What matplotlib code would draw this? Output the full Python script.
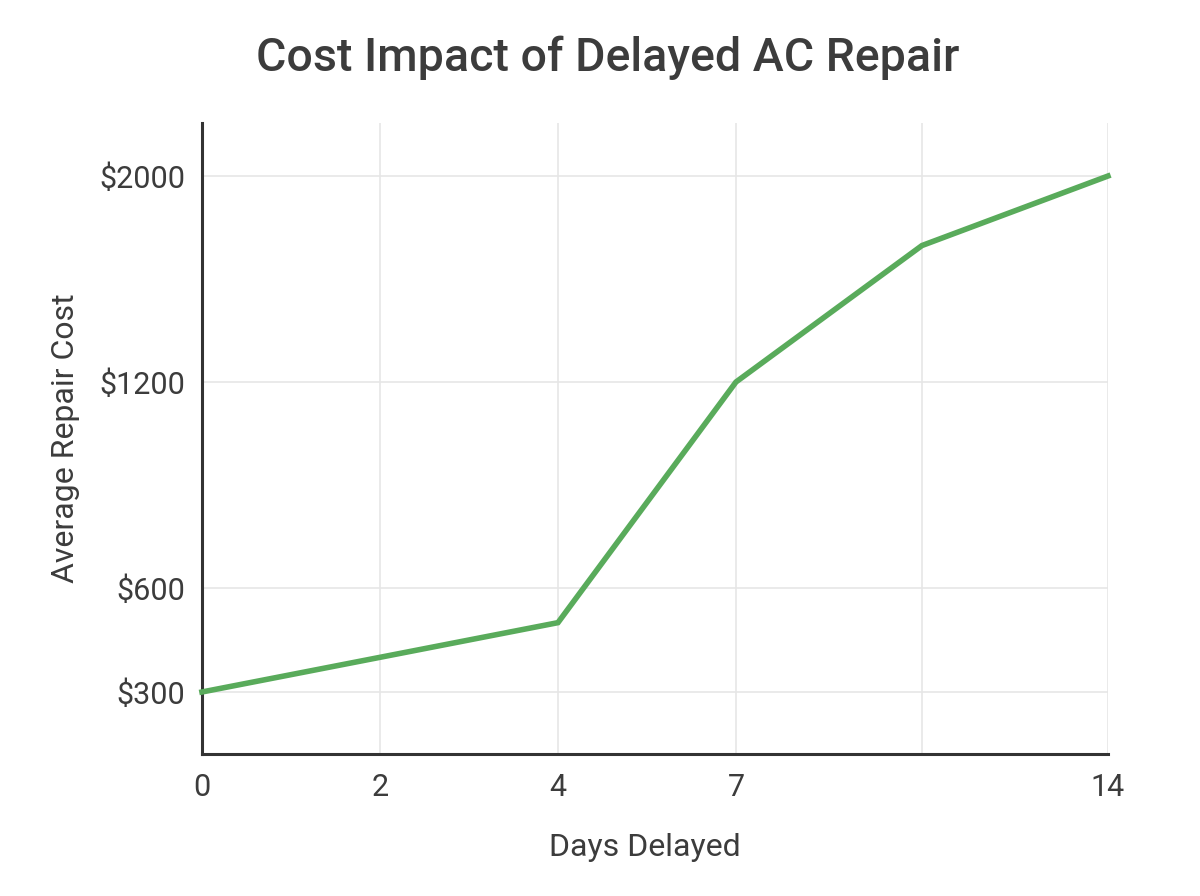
"""
Cost impact of delayed AC repair - line chart
"""
import numpy as np
import matplotlib
matplotlib.use('Agg')
import matplotlib.pyplot as plt

plt.rcParams['font.family'] = ['Roboto', 'DejaVu Sans']

days = [0, 2, 4, 7, 10, 14]
cost = [300, 400, 500, 1200, 1730, 2000]
x_tick_labels = ['0', '2', '4', '7', '', '14']
y_ticks = [300, 600, 1200, 2000]
y_tick_labels = ['$300', '$600', '$1200', '$2000']

# The source chart spaces its ticks unevenly, so both axes use piecewise scales.
x_break_vals = [0, 2, 4, 7, 10, 14]
x_break_pos = [0, 178, 356, 534, 720, 906]
y_break_vals = [121, 300, 600, 1200, 2000, 2206]
y_break_pos = [0, 62, 166, 372, 578, 631]


def fwd(vals, pos):
    return lambda v: np.interp(v, vals, pos)


def inv(vals, pos):
    return lambda p: np.interp(p, pos, vals)


text_color = '#3c3c3c'

fig = plt.figure(figsize=(12, 8.96), dpi=100)
ax = fig.add_axes([0.1683, 0.1585, 0.755, 0.7042])

ax.set_xscale('function', functions=(fwd(x_break_vals, x_break_pos), inv(x_break_vals, x_break_pos)))
ax.set_yscale('function', functions=(fwd(y_break_vals, y_break_pos), inv(y_break_vals, y_break_pos)))

ax.plot(days, cost, color='#59ab5b', lw=4, solid_joinstyle='miter', zorder=3, clip_on=False)

ax.set_xlim(0, 14)
ax.set_ylim(121, 2206)
ax.set_xticks(days)
ax.set_xticklabels(x_tick_labels)
ax.set_yticks(y_ticks)
ax.set_yticklabels(y_tick_labels)
ax.minorticks_off()

ax.grid(True, color='#e6e6e6', lw=1.2)
ax.set_axisbelow(True)
for s in ['top', 'right']:
    ax.spines[s].set_visible(False)
for s in ['left', 'bottom']:
    ax.spines[s].set_color('#333333')
    ax.spines[s].set_linewidth(2.2)

ax.tick_params(length=0, labelsize=22, colors=text_color, pad=12)
ax.tick_params(axis='x', pad=14)

ax.set_xlabel('Days Delayed', fontsize=23, color=text_color, labelpad=22)
ax.xaxis.label.set_x(0.489)
ax.set_ylabel('Average Repair Cost', fontsize=23, color=text_color, labelpad=14)

fig.suptitle('Cost Impact of Delayed AC Repair', fontsize=33.5, fontweight='medium',
             color=text_color, x=0.506, y=0.96)

plt.savefig('out.png')
